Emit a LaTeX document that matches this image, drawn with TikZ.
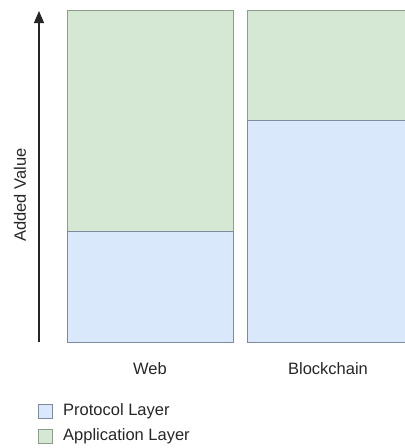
\documentclass[tikz,border=0pt]{standalone}
\usepackage{fontspec}
\setmainfont{Liberation Sans}
\usetikzlibrary{arrows.meta}
\definecolor{appfill}{HTML}{D5E8D4}
\definecolor{appline}{HTML}{8E9C8A}
\definecolor{protofill}{HTML}{DAE8FC}
\definecolor{protoline}{HTML}{7F8AA0}
\tikzset{
  applayer/.style={fill=appfill, draw=appline, line width=1pt},
  protolayer/.style={fill=protofill, draw=protoline, line width=1pt},
  label text/.style={font=\fontsize{16.5}{19}\selectfont, text=black!85, inner sep=0pt},
  legendbox/.style={minimum width=14pt, minimum height=14pt, inner sep=0pt}
}
\begin{document}
\begin{tikzpicture}[x=1pt, y=-1pt]
  \useasboundingbox (0,0) rectangle (405,448);
  % Web column
  \draw[applayer]   (67,10)  rectangle (233,231);
  \draw[protolayer] (67,231) rectangle (233,342);
  % Blockchain column (runs off the right edge)
  \begin{scope}
    \clip (0,0) rectangle (405,448);
    \draw[applayer]   (247,10)  rectangle (410,120);
    \draw[protolayer] (247,120) rectangle (410,342);
  \end{scope}
  % value axis
  \coordinate (axisfoot) at (39,342);
  \coordinate (axistip) at (39,11);
  \draw[line width=1.2pt, black!85, -{Triangle[length=12pt, width=10pt]}] (axisfoot) -- (axistip);
  \node[label text, rotate=90] (axislabel) at (20,195) {Added Value};
  % column captions
  \node[label text] (web) at (150,369) {Web};
  \node[label text] (chain) at (328,369) {Blockchain};
  % legend
  \node[legendbox, protolayer] (protokey) at (45.5,411) {};
  \node[label text, anchor=west] (prototext) at (63,411) {Protocol Layer};
  \node[legendbox, applayer] (appkey) at (45.5,436) {};
  \node[label text, anchor=west] (apptext) at (63,436) {Application Layer};
\end{tikzpicture}
\end{document}
